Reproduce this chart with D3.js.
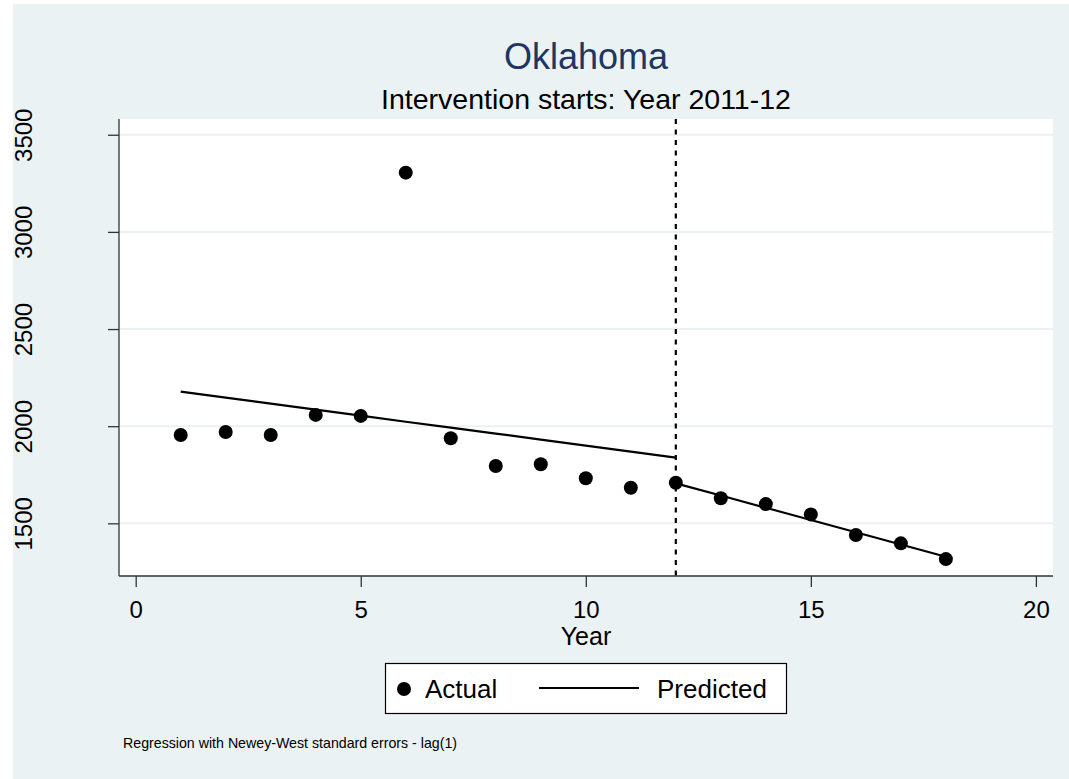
<!DOCTYPE html>
<html><head><meta charset="utf-8">
<script src="https://cdn.jsdelivr.net/npm/d3@7"></script>
<style>html,body{margin:0;padding:0;background:#fff;}svg{display:block;font-family:"Liberation Sans",Arial,sans-serif;}</style>
</head><body>
<script>
// Data
const years = [1,2,3,4,5,6,7,8,9,10,11,12,13,14,15,16,17,18];
const actual = [1955,1970,1955,2058,2053,3305,1938,1795,1804,1732,1683,1709,1629,1599,1546,1440,1397,1316];
const preYears = [1,2,3,4,5,6,7,8,9,10,11,12];
const predictedPre = [2178,2147,2116,2085,2054,2023,1993,1962,1931,1900,1869,1838];
const postYears = [12,13,14,15,16,17,18];
const predictedPost = [1706,1643,1580,1517,1454,1391,1328];
const xTicks = [0,5,10,15,20];
const yTicks = [1500,2000,2500,3000,3500];
const interventionYear = 12;

const W = 1069, H = 779;
const svg = d3.select("body").append("svg").attr("width", W).attr("height", H);
svg.append("rect").attr("x",13).attr("y",4).attr("width",W-13).attr("height",H-4).attr("fill","#eaf2f3");

const L = 119, R = 1053, T = 119, B = 576;
const x = d3.scaleLinear().domain([-0.371, 20.38]).range([L, R]);
const y = d3.scaleLinear().domain([1229, 3581]).range([B, T]);

svg.append("rect").attr("x",L).attr("y",T).attr("width",R-L).attr("height",B-T).attr("fill","#fff");

// gridlines
svg.append("g").selectAll("line").data(yTicks).join("line")
  .attr("x1",L).attr("x2",R).attr("y1",d=>y(d)).attr("y2",d=>y(d))
  .attr("stroke","#eaf2f3").attr("stroke-width",2);

// axes
const xAxis = svg.append("g").attr("transform",`translate(0,${B})`)
  .call(d3.axisBottom(x).tickValues(xTicks).tickSize(11).tickPadding(14).tickFormat(d3.format("d")));
const yAxis = svg.append("g").attr("transform",`translate(${L},0)`)
  .call(d3.axisLeft(y).tickValues(yTicks).tickSize(11).tickPadding(0).tickFormat(d3.format("d")));
[xAxis,yAxis].forEach(g=>{
  g.select(".domain").remove();
  g.selectAll(".tick line").attr("stroke","#333").attr("stroke-width",1.3);
  g.selectAll("text").attr("fill","#000").style("font-family",'"Liberation Sans",Arial,sans-serif');
});
xAxis.selectAll("text").style("font-size","24px");
yAxis.selectAll("text").style("font-size","24px")
  .attr("x",null).attr("dy",null)
  .attr("transform","translate(-87,0) rotate(-90)")
  .attr("text-anchor","middle").attr("y",0);
// axis lines
svg.append("line").attr("x1",L).attr("x2",L).attr("y1",T).attr("y2",B).attr("stroke","#333").attr("stroke-width",1.3);
svg.append("line").attr("x1",L).attr("x2",R).attr("y1",B).attr("y2",B).attr("stroke","#333").attr("stroke-width",1.3);

// dashed intervention line
svg.append("line").attr("x1",x(interventionYear)).attr("x2",x(interventionYear))
  .attr("y1",T).attr("y2",B).attr("stroke","#000").attr("stroke-width",2.2).attr("stroke-dasharray","5,5.5");

// predicted lines
const line = d3.line().x(d=>x(d[0])).y(d=>y(d[1]));
svg.append("path").attr("d", line(preYears.map((v,i)=>[v,predictedPre[i]])))
  .attr("fill","none").attr("stroke","#000").attr("stroke-width",2.2);
svg.append("path").attr("d", line(postYears.map((v,i)=>[v,predictedPost[i]])))
  .attr("fill","none").attr("stroke","#000").attr("stroke-width",2.2);

// points
svg.append("g").selectAll("circle").data(years).join("circle")
  .attr("cx",d=>x(d)).attr("cy",(d,i)=>y(actual[i])).attr("r",7).attr("fill","#000");

// titles
svg.append("text").attr("x",586).attr("y",69).attr("text-anchor","middle")
  .attr("fill","#1f3562").style("font-size","36px").text("Oklahoma");
svg.append("text").attr("x",586).attr("y",109).attr("text-anchor","middle")
  .attr("fill","#000").style("font-size","28.5px").text("Intervention starts: Year 2011-12");
svg.append("text").attr("x",586).attr("y",645).attr("text-anchor","middle")
  .attr("fill","#000").style("font-size","25px").text("Year");

// legend
svg.append("rect").attr("x",385.5).attr("y",663.5).attr("width",401).attr("height",50)
  .attr("fill","#fff").attr("stroke","#000").attr("stroke-width",1.2);
svg.append("circle").attr("cx",404).attr("cy",689).attr("r",7).attr("fill","#000");
svg.append("text").attr("x",425).attr("y",698).attr("fill","#000").style("font-size","26px").text("Actual");
svg.append("line").attr("x1",539).attr("x2",639).attr("y1",688).attr("y2",688).attr("stroke","#000").attr("stroke-width",2.2);
svg.append("text").attr("x",657).attr("y",698).attr("fill","#000").style("font-size","26px").text("Predicted");

// note
svg.append("text").attr("x",123).attr("y",748).attr("fill","#000").style("font-size","14.2px")
  .text("Regression with Newey-West standard errors - lag(1)");
</script>
</body></html>
